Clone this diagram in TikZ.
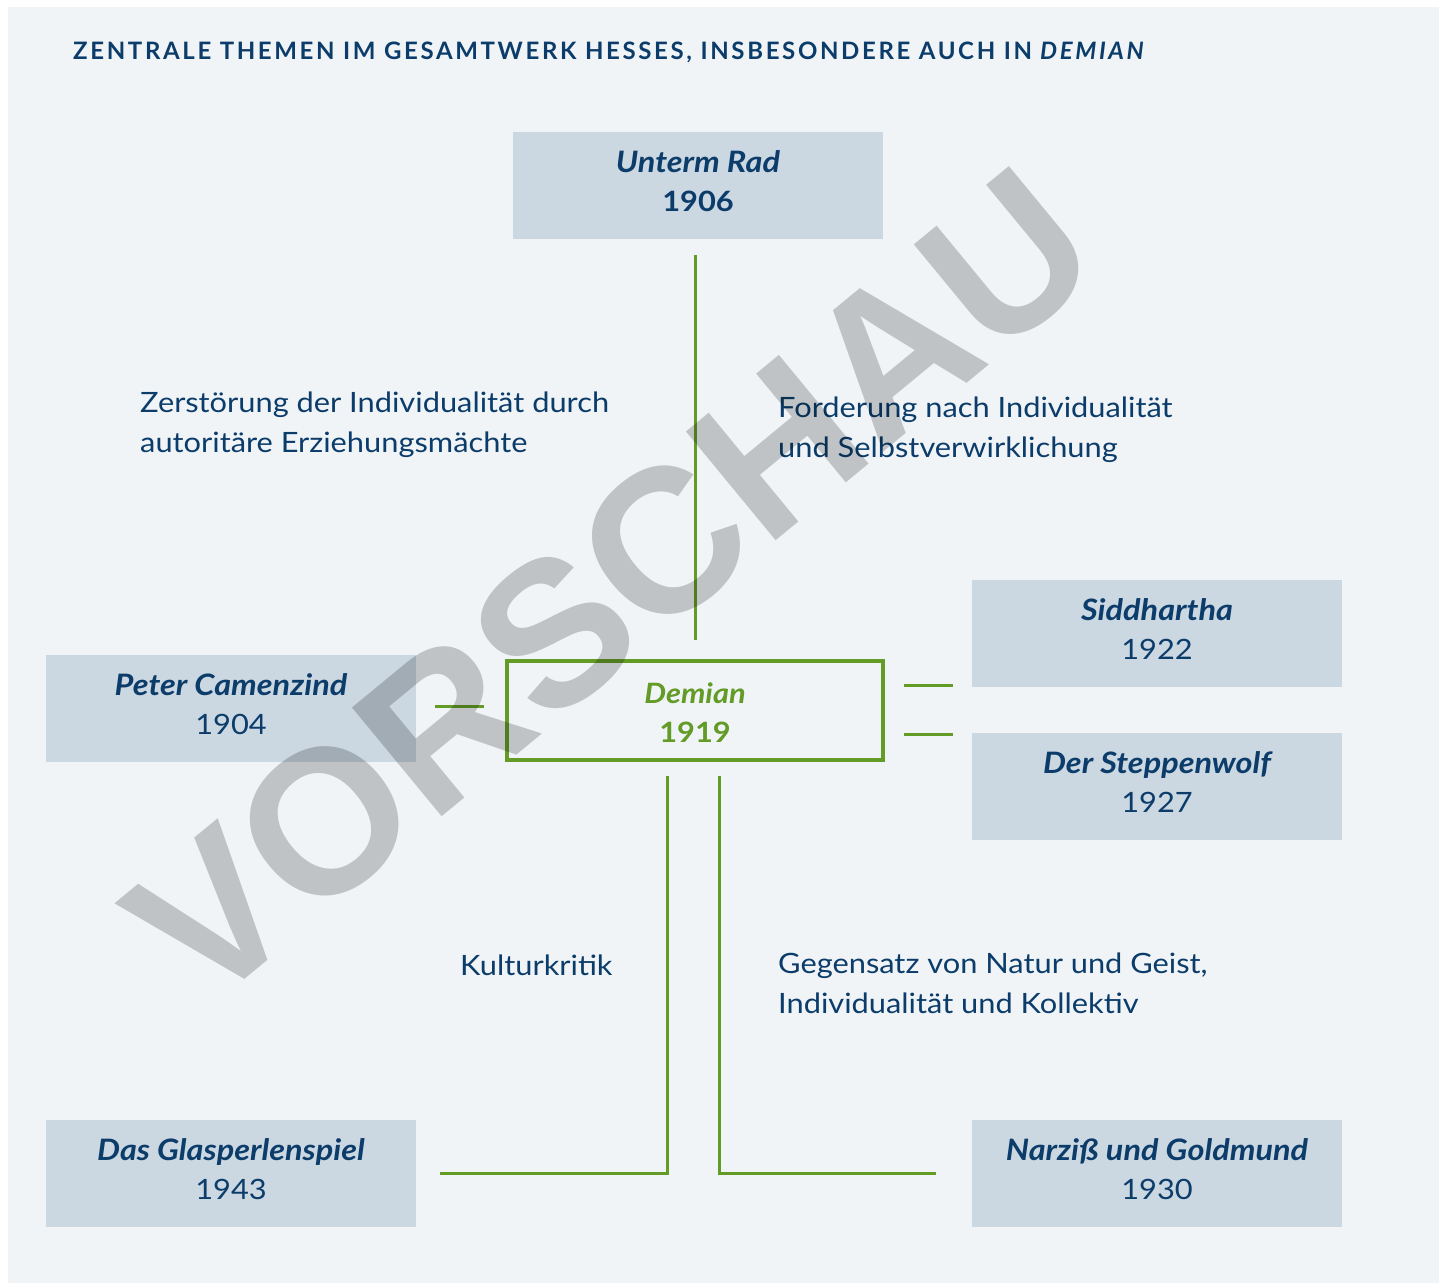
\documentclass[tikz,border=0pt]{standalone}
\usepackage{fontspec}
\setmainfont{Lato}[FakeStretch=1.1]
\newfontfamily\wmfont{Liberation Sans}
\newfontfamily\titlefont[LetterSpace=11]{Lato}
\definecolor{panelbg}{HTML}{F0F4F7}
\definecolor{boxfill}{HTML}{CBD7E1}
\definecolor{txtblue}{HTML}{0B3C6A}
\definecolor{grn}{HTML}{629B26}
\definecolor{wm}{gray}{0.8}
\tikzset{
  book/.style={fill=boxfill, draw=none, minimum width=370pt, minimum height=107pt,
    align=center, text=txtblue, font=\fontsize{28}{39.5}\selectfont, inner sep=0pt, text depth=9pt},
  booktitle/.style={},
  theme/.style={text=txtblue, align=left, font=\fontsize{28}{39.5}\selectfont, inner sep=0pt},
  conn/.style={draw=grn, line width=3pt},
}
\newcommand\bt[1]{{\fontsize{29.5}{39.5}\selectfont\bfseries\itshape #1}}
\begin{document}
\begin{tikzpicture}[x=1pt,y=-1pt]
\useasboundingbox (0,0) rectangle (1439,1283);
\fill[white] (0,0) rectangle (1439,1283);
\fill[panelbg] (8,7) rectangle (1439,1283);

\node[anchor=base west, text=txtblue, inner sep=0pt, font=\titlefont\bfseries\fontsize{24}{28}\selectfont] (title) at (73,59)
  {ZENTRALE THEMEN IM GESAMTWERK HESSES, INSBESONDERE AUCH IN \textit{DEMIAN}};

\node[book] (rad) at (698,185.5) {\bt{Unterm Rad}\\\textbf{1906}};
\node[book] (peter) at (231,708.5) {\bt{Peter Camenzind}\\1904};
\node[book] (sidd) at (1157,633.5) {\bt{Siddhartha}\\1922};
\node[book] (steppe) at (1157,786.5) {\bt{Der Steppenwolf}\\1927};
\node[book] (glas) at (231,1173.5) {\bt{Das Glasperlenspiel}\\1943};
\node[book] (narz) at (1157,1173.5) {\bt{Narziß und Goldmund}\\1930};

\node[draw=grn, line width=3.5pt, minimum width=376pt, minimum height=99pt, inner sep=0pt] (demian) at (695,710.5) {};
\node[text=grn, align=center, font=\fontsize{28}{39.5}\selectfont\bfseries, inner sep=0pt] (demiantext) at (695,712.5)
  {\textit{Demian}\\1919};

\node[theme, anchor=north west] (t1) at (140,392) {Zerstörung der Individualität durch\\autoritäre Erziehungsmächte};
\node[theme, anchor=north west] (t2) at (778,397) {Forderung nach Individualität\\und Selbstverwirklichung};
\node[theme, anchor=north west] (t3) at (460,955) {Kulturkritik};
\node[theme, anchor=north west] (t4) at (778,953) {Gegensatz von Natur und Geist,\\Individualität und Kollektiv};

\draw[conn, shorten <=16pt, shorten >=19pt] (rad.south -| demian.north) -- (demian.north);
\draw[conn, shorten <=19pt, shorten >=21pt] ([yshift=2.5pt]peter.east) -- ([yshift=2.5pt]peter.east -| demian.west);
\draw[conn, shorten <=19pt, shorten >=19pt] ([yshift=2pt]demian.east |- sidd.south) -- ([yshift=2pt]sidd.south west);
\draw[conn, shorten <=19pt, shorten >=19pt] ([yshift=-2pt]demian.east |- steppe.north) -- ([yshift=-2pt]steppe.north west);
\draw[conn, shorten <=14pt, shorten >=24pt] ([xshift=-28pt]demian.south) |- (glas.east);
\draw[conn, shorten <=14pt, shorten >=36pt] ([xshift=24pt]demian.south) |- (narz.west);

\begin{scope}[blend mode=multiply]
\node[text=wm, rotate=39.5, inner sep=0pt, font=\wmfont\bfseries\fontsize{205}{205}\selectfont] (wmark) at (611,586) {VORSCHAU};
\end{scope}
\end{tikzpicture}
\end{document}
